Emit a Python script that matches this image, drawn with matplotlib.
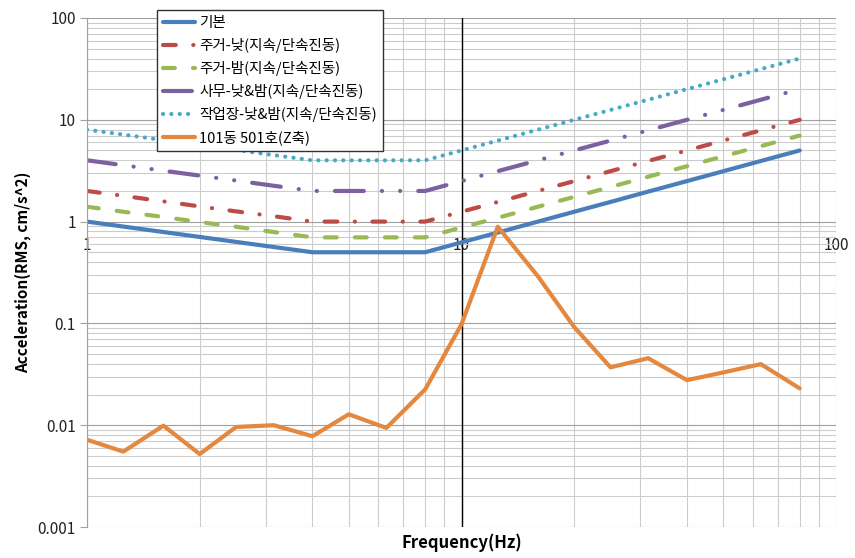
import matplotlib
matplotlib.use("Agg")
import matplotlib.pyplot as plt
from matplotlib.ticker import FixedLocator, NullFormatter, LogLocator

plt.rcParams['font.family'] = ['Noto Sans CJK KR', 'DejaVu Sans']
plt.rcParams['lines.scale_dashes'] = False

freq = [1, 1.25, 1.6, 2, 2.5, 3.15, 4, 5, 6.3, 8, 10, 12.5, 16, 20, 25, 31.5, 40, 50, 63, 80]

base = [1.0, 0.894, 0.79, 0.707, 0.632, 0.563, 0.5, 0.5, 0.5, 0.5,
        0.625, 0.781, 1.0, 1.25, 1.56, 1.97, 2.5, 3.125, 3.94, 5.0]
res_day = [2.0, 1.79, 1.58, 1.41, 1.26, 1.13, 1.0, 1.0, 1.0, 1.0,
           1.25, 1.56, 2.0, 2.5, 3.13, 3.94, 5.0, 6.25, 7.88, 10.0]
res_night = [1.4, 1.25, 1.11, 0.99, 0.89, 0.79, 0.7, 0.7, 0.7, 0.7,
             0.875, 1.09, 1.4, 1.75, 2.19, 2.76, 3.5, 4.38, 5.51, 7.0]
office = [4.0, 3.58, 3.16, 2.83, 2.53, 2.25, 2.0, 2.0, 2.0, 2.0,
          2.5, 3.13, 4.0, 5.0, 6.25, 7.88, 10.0, 12.5, 15.75, 20.0]
workshop = [8.0, 7.16, 6.32, 5.66, 5.06, 4.5, 4.0, 4.0, 4.0, 4.0,
            5.0, 6.25, 8.0, 10.0, 12.5, 15.75, 20.0, 25.0, 31.5, 40.0]
measured = [0.0072, 0.0055, 0.0099, 0.0052, 0.0096, 0.0100, 0.0078, 0.0128, 0.0094, 0.0225,
            0.098, 0.89, 0.29, 0.092, 0.037, 0.0455, 0.0277, 0.033, 0.0398, 0.023]

labels = ['기본', '주거-낮(지속/단속진동)', '주거-밤(지속/단속진동)', '사무-낮&밤(지속/단속진동)',
          '작업장-낮&밤(지속/단속진동)', '101동 501호(Z축)']
colors = ['#4A7EBB', '#BE4B48', '#98B954', '#7D60A0', '#46AAC5', '#E3883E']

y_ticks = [0.001, 0.01, 0.1, 1, 10, 100]
y_ticklabels = ['0.001', '0.01', '0.1', '1', '10', '100']
x_ticks = [1, 10, 100]
x_ticklabels = ['1', '10', '100']

fig = plt.figure(figsize=(8.55, 5.58), dpi=100)
ax = fig.add_axes([87/855, 1 - 527/558, 749/855, 509/558])
ax.set_xscale('log')
ax.set_yscale('log')
ax.set_xlim(1, 100)
ax.set_ylim(0.001, 100)

# grid
ax.xaxis.set_minor_locator(LogLocator(base=10, subs=range(2, 10)))
ax.yaxis.set_minor_locator(LogLocator(base=10, subs=range(2, 10)))
ax.grid(which='major', color='#a0a0a0', lw=0.8)
ax.grid(which='minor', color='#cccccc', lw=0.8)
ax.set_axisbelow(True)
ax.axvline(10, color='black', lw=1.0, zorder=1.5)

lw = 3
ax.plot(freq, base, color=colors[0], lw=lw, label=labels[0], solid_capstyle='round')
ax.plot(freq, res_day, color=colors[1], lw=lw, label=labels[1],
        linestyle=(0, (9.2, 12.6, 0.1, 12.6)), dash_capstyle='round')
ax.plot(freq, res_night, color=colors[2], lw=lw, label=labels[2],
        linestyle=(0, (8.5, 13.1)), dash_capstyle='round')
ax.plot(freq, office, color=colors[3], lw=lw, label=labels[3],
        linestyle=(0, (20.8, 13, 0.1, 13, 0.1, 13)), dash_capstyle='round')
ax.plot(freq, workshop, color=colors[4], lw=lw, label=labels[4],
        linestyle=(0, (0.1, 5.9)), dash_capstyle='round')
ax.plot(freq, measured, color=colors[5], lw=lw, label=labels[5], solid_capstyle='round')

# axes styling
for s in ['top', 'right']:
    ax.spines[s].set_visible(False)
ax.spines['left'].set_color('#a0a0a0')
ax.spines['bottom'].set_position(('data', 1))
ax.spines['bottom'].set_visible(False)

ax.yaxis.set_major_locator(FixedLocator(y_ticks))
ax.set_yticklabels(y_ticklabels)
ax.yaxis.set_minor_formatter(NullFormatter())
ax.xaxis.set_major_locator(FixedLocator(x_ticks))
ax.set_xticklabels(x_ticklabels)
ax.xaxis.set_minor_formatter(NullFormatter())
ax.tick_params(axis='y', which='major', length=5, color='#a0a0a0', labelsize=11, labelcolor='#222222', pad=3)
ax.tick_params(axis='y', which='minor', length=0)
ax.tick_params(axis='x', which='both', length=0, labelsize=11, labelcolor='#222222', pad=11)

ax.set_ylabel('Acceleration(RMS, cm/s^2)', fontsize=11, fontweight='bold', labelpad=5)
fig.text(462/855, 1 - 543/558, 'Frequency(Hz)', ha='center', va='center', fontsize=12, fontweight='bold')

leg = ax.legend(loc='upper left', bbox_to_anchor=(157/855, 1 - 10/558), bbox_transform=fig.transFigure,
                borderaxespad=0, fontsize=10.5, frameon=True, fancybox=False, framealpha=1,
                edgecolor='#333333', handlelength=2.2, handletextpad=0.3, labelspacing=0.55,
                borderpad=0.4)
leg.get_frame().set_linewidth(1.0)

fig.savefig('out.png', dpi=100)
